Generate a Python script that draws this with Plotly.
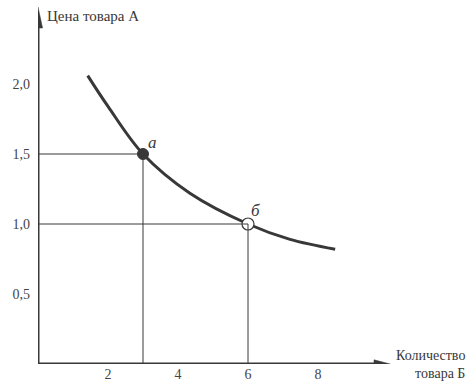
import plotly.graph_objects as go

# Demand curve data
qty = [1.42, 2.0, 3.0, 4.34, 6.0, 7.2, 8.49]
price = [2.06, 1.84, 1.5, 1.22, 1.0, 0.89, 0.82]

# Marked points
pt_x = [3, 6]
pt_y = [1.5, 1.0]
pt_labels = ["a", "б"]

x_ticks = [2, 4, 6, 8]
x_ticktext = ["2", "4", "6", "8"]
y_ticks = [0.5, 1.0, 1.5, 2.0]
y_ticktext = ["0,5", "1,0", "1,5", "2,0"]

y_title = "Цена товара А"
x_title = "Количество<br>товара Б"

DARK = "#383838"
FONT = "Liberation Serif"

fig = go.Figure()

shapes = []
# guide lines
for px_, py_ in zip(pt_x, pt_y):
    shapes.append(dict(type="line", x0=0, x1=px_, y0=py_, y1=py_, line=dict(color=DARK, width=1)))
    shapes.append(dict(type="line", x0=px_, x1=px_, y0=0, y1=py_, line=dict(color=DARK, width=1)))

# axes with arrows
shapes.append(dict(type="line", x0=0, x1=0, y0=0, y1=2.42, line=dict(color=DARK, width=3)))
shapes.append(dict(type="line", x0=0, x1=9.66, y0=0, y1=0, line=dict(color=DARK, width=3)))
shapes.append(dict(type="path", path="M -0.13 2.40 L 0 2.55 L 0.13 2.40 Z",
                   fillcolor=DARK, line=dict(color=DARK, width=0.5)))
shapes.append(dict(type="path", path="M 9.60 -0.03 L 10.06 0 L 9.60 0.03 Z",
                   fillcolor=DARK, line=dict(color=DARK, width=0.5)))

fig.add_trace(go.Scatter(x=qty, y=price, mode="lines",
                         line=dict(color=DARK, width=3, shape="spline", smoothing=1.0),
                         hoverinfo="skip", showlegend=False))

fig.add_trace(go.Scatter(x=[pt_x[0]], y=[pt_y[0]], mode="markers",
                         marker=dict(size=11, color=DARK, line=dict(color=DARK, width=1)),
                         showlegend=False))
fig.add_trace(go.Scatter(x=[pt_x[1]], y=[pt_y[1]], mode="markers",
                         marker=dict(size=12, color="white", line=dict(color=DARK, width=1.2)),
                         showlegend=False))

annotations = [
    dict(x=pt_x[0], y=pt_y[0], text="<i>" + pt_labels[0] + "</i>", showarrow=False, xshift=9, yshift=12,
         font=dict(family=FONT, size=17, color=DARK)),
    dict(x=pt_x[1], y=pt_y[1], text="<i>" + pt_labels[1] + "</i>", showarrow=False, xshift=7, yshift=14,
         font=dict(family=FONT, size=17, color=DARK)),
    dict(x=0.2, y=2.486, text=y_title, showarrow=False, xanchor="left", yanchor="middle",
         font=dict(family=FONT, size=15, color=DARK)),
    dict(xref="paper", yref="paper", x=0.9956, y=0.0, text=x_title, showarrow=False,
         xanchor="right", yanchor="middle", align="right",
         font=dict(family=FONT, size=14, color=DARK)),
]

fig.update_layout(
    width=469, height=386,
    margin=dict(l=38, r=0, t=0, b=22),
    paper_bgcolor="white", plot_bgcolor="white",
    shapes=shapes, annotations=annotations,
    font=dict(family=FONT),
    xaxis=dict(range=[0, 12.314], tickvals=x_ticks, ticktext=x_ticktext,
               showgrid=False, zeroline=False, showline=False, ticks="",
               tickfont=dict(family=FONT, size=14, color="#444")),
    yaxis=dict(range=[0, 2.6], tickvals=y_ticks, ticktext=y_ticktext,
               showgrid=False, zeroline=False, showline=False, ticks="",
               ticklabelstandoff=7,
               tickfont=dict(family=FONT, size=14, color="#444")),
)

fig.write_html("out.html", config={"displayModeBar": False},
               post_script="document.body.style.margin='0';document.body.style.padding='0';")
